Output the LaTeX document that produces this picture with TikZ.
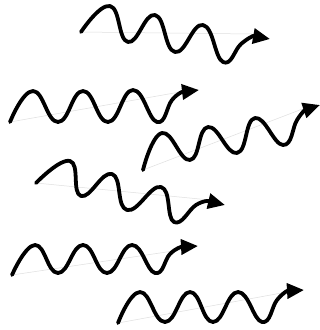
\documentclass[tikz,border=0pt]{standalone}
\usetikzlibrary{arrows.meta}
\tikzset{
  wave/.style={line width=3.8pt, line cap=round, line join=round, black,
    -{Triangle[length=17pt,width=15pt]}},
  axisline/.style={gray!25, line width=0.5pt}
}
\begin{document}
\begin{tikzpicture}[x=1pt,y=-1pt]
\useasboundingbox[fill=white] (0,0) rectangle (320,330);
% faint axes
\draw[axisline] (81,32) -- (252,34);
\draw[axisline] (10,122) -- (180,92);
\draw[axisline] (143,170) -- (305,108);
\draw[axisline] (36,183) -- (210,200);
\draw[axisline] (12,275) -- (180,250);
\draw[axisline] (118,323) -- (287,292);
% photons
\draw[wave] plot[smooth, tension=0.8] coordinates
  {(81,32) (110,6) (128,42) (155,15) (175,52) (203,25) (223,62) (241,44) (253,36)} -- (270,39);
\draw[wave] plot[smooth, tension=0.8] coordinates
  {(10,122) (33,91) (58,122) (83,91) (108,122) (133,90) (157,122) (172,100) (182,92)} -- (199,90);
\draw[wave] plot[smooth, tension=0.8] coordinates
  {(143,170) (162,133) (190,160) (208,127) (237,153) (255,118) (283,145) (297,120) (305,110)} -- (320,105);
\draw[wave] plot[smooth, tension=0.8] coordinates
  {(36,183) (70,161) (81,196) (112,174) (127,210) (161,187) (174,222) (196,205) (208,201)} -- (225,205);
\draw[wave] plot[smooth, tension=0.8] coordinates
  {(12,275) (35,245) (58,273) (83,245) (107,273) (132,245) (155,273) (170,254) (181,247)} -- (198,246);
\draw[wave] plot[smooth, tension=0.8] coordinates
  {(118,323) (140,292) (165,322) (190,292) (213,322) (238,292) (262,322) (277,300) (287,291)} -- (304,290);
\end{tikzpicture}
\end{document}
